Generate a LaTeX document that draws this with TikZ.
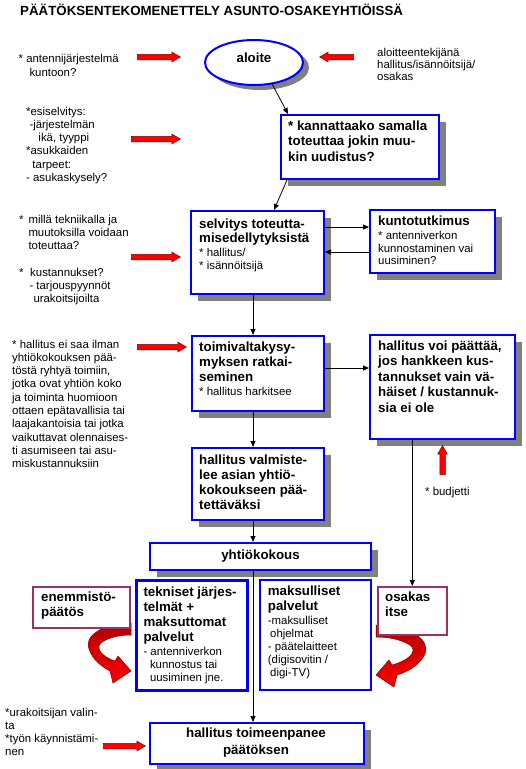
\documentclass[tikz,border=0pt]{standalone}
\usepackage{fontspec}
\setmainfont{Liberation Sans}
\usetikzlibrary{shapes.geometric,shapes.arrows,shadows,arrows.meta}
\definecolor{bblue}{HTML}{0000FF}
\definecolor{sgray}{HTML}{808080}
\definecolor{mroon}{HTML}{993366}
\definecolor{rred}{HTML}{FF0000}
\definecolor{dred}{HTML}{800000}
\tikzset{
 shd/.style={drop shadow={shadow xshift=7pt,shadow yshift=-7pt,fill=sgray,opacity=1}},
 bbox/.style={draw=bblue,line width=2pt,fill=white,rectangle,inner sep=0pt,anchor=north west},
 mbox/.style={draw=mroon,line width=1.6pt,fill=white,rectangle,inner sep=0pt,anchor=north west},
 nt/.style={inner sep=0pt,anchor=base west,align=left,font=\fontsize{11.4}{#1}\selectfont},
 nt/.default=13.3,
 bt/.style={inner sep=0pt,anchor=base west,align=left,font=\fontsize{13.3}{#1}\selectfont\bfseries},
 bt/.default=15.3,
 conn/.style={draw=black,line width=0.8pt,-{Triangle[length=6pt,width=5pt]}},
 rarrow/.style={single arrow,fill=rred,draw=dred,line width=0.5pt,inner sep=2.5pt,
   single arrow head extend=2.2pt,single arrow tip angle=60,minimum width=0pt},
 curvar/.style={top color=red!70!black,middle color=rred,bottom color=rred,draw=dred,line width=0.5pt},
}
\begin{document}
\begin{tikzpicture}[x=1pt,y=-1pt]
\useasboundingbox (0,0) rectangle (526,769);
\fill[white] (0,0) rectangle (526,769);
% title
\node[anchor=base west,inner sep=0pt,font=\fontsize{13.3}{15}\selectfont\bfseries] (title) at (20,15) {PÄÄTÖKSENTEKOMENETTELY ASUNTO-OSAKEYHTIÖISSÄ};
% ellipse
\node[ellipse,draw=bblue,line width=2pt,fill=white,inner sep=0pt,minimum width=98pt,minimum height=45pt,
  drop shadow={shadow xshift=6pt,shadow yshift=-5pt,fill=sgray,opacity=1}] (e1) at (254,62.5) {};
\node[bt,anchor=base] (e1t) at (254,62) {aloite};
% curved arrows (drawn below the maroon boxes)
\shade[curvar] (131,623) .. controls (100,624) and (84,637) .. (89,649) .. controls (93,661) and (103,667) .. (110,671)
  -- (113,683) -- (131,671) -- (118,656) -- (115,661)
  .. controls (100,656) and (95,647) .. (102,642) .. controls (110,637) and (120,635) .. (131,635) -- cycle;
\shade[curvar] (376,625) .. controls (414,626) and (430,641) .. (425,654) .. controls (420,665) and (407,672) .. (397,675)
  -- (394,687) -- (376,675) -- (389,660) -- (392,665)
  .. controls (410,660) and (418,651) .. (410,645) .. controls (400,639) and (388,637) .. (376,637) -- cycle;
% boxes
\node[bbox,shd,minimum width=158pt,minimum height=64pt] (b2) at (280,114) {};
\node[bbox,shd,minimum width=133pt,minimum height=83pt] (b3) at (190,210) {};
\node[bbox,shd,minimum width=125pt,minimum height=63pt] (b4) at (369,209) {};
\node[bbox,shd,minimum width=132pt,minimum height=75pt] (b5) at (191,335) {};
\node[bbox,shd,minimum width=145pt,minimum height=104pt] (b6) at (369,334) {};
\node[bbox,shd,minimum width=132pt,minimum height=72pt] (b7) at (191,447) {};
\node[bbox,shd,minimum width=221pt,minimum height=27pt] (b8) at (149,542) {};
\node[bbox,line width=2.8pt,minimum width=111pt,minimum height=110pt] (b9) at (135,579) {};
\node[bbox,minimum width=111pt,minimum height=110pt] (b10) at (259,579) {};
\node[mbox,minimum width=97pt,minimum height=41pt] (en) at (32,586) {};
\node[mbox,minimum width=69pt,minimum height=48pt] (os) at (377,586) {};
\node[bbox,shd,minimum width=214pt,minimum height=41pt] (b11) at (149,722) {};
% box texts (base = baseline of last line)
\node[bt=15.5] (t2) at (288,161.4) {* kannattaako samalla\\toteuttaa jokin muu-\\kin uudistus?};
\node[bt=14] (t3a) at (199,242.4) {selvitys toteutta-\\misedellytyksistä};
\node[nt] (t3b) at (199,269.5) {* hallitus/\\{}* isännöitsijä};
\node[bt] (t4a) at (378,225.4) {kuntotutkimus};
\node[nt=12.6] (t4b) at (378,264.9) {* antenniverkon\\kunnostaminen vai\\uusiminen?};
\node[bt=15] (t5a) at (199,381.7) {toimivaltakysy-\\myksen ratkai-\\seminen};
\node[nt] (t5b) at (199,395.7) {* hallitus harkitsee};
\node[bt=15.6] (t6) at (378,412.4) {hallitus voi päättää,\\jos hankkeen kus-\\tannukset vain vä-\\häiset / kustannuk-\\sia ei ole};
\node[bt=15.3] (t7) at (199,509.9) {hallitus valmiste-\\lee asian yhtiö-\\kokoukseen pää-\\tettäväksi};
\node[bt,anchor=center] (t8) at (b8.center) {yhtiökokous};
\node[bt=15] (t9a) at (143.3,641.7) {tekniset järjes-\\telmät +\\maksuttomat\\palvelut};
\node[nt] (t9b) at (143.3,681.6) {- antenniverkon\\\hspace*{6.5pt}kunnostus tai\\\hspace*{6.5pt}uusiminen jne.};
\node[bt=15.5] (t10a) at (267.7,610.5) {maksulliset\\palvelut};
\node[nt=12.9] (t10b) at (267.7,676.3) {-maksulliset\\\hspace*{2.3pt}ohjelmat\\- päätelaitteet\\(digisovitin /\\\hspace*{2.3pt}digi-TV)};
\node[bt=15] (ten) at (41,616.7) {enemmistö-\\päätös};
\node[bt=15] (tos) at (385,616.7) {osakas\\itse};
\node[bt=16.7,anchor=base,align=center] (t11) at (256,754.1) {hallitus toimeenpanee\\päätöksen};
% side texts
\node[nt=14] (l1) at (18.5,76.5) {* antennijärjestelmä\\\hspace*{10.8pt}kuntoon?};
\node[nt=12] (r1) at (377,80) {aloitteentekijänä\\hallitus/isännöitsijä/\\osakas};
\node[nt] (l2) at (26,181.5) {*esiselvitys:\\\hspace*{3.3pt}-järjestelmän\\\hspace*{12.3pt}ikä, tyyppi\\{}*asukkaiden\\\hspace*{6.3pt}tarpeet:\\- asukaskysely?};
\node[nt] (l3) at (19,302.8) {*\hspace{4.9pt}millä tekniikalla ja\\\hspace*{9.3pt}muutoksilla voidaan\\\hspace*{9.3pt}toteuttaa?\\[13.3pt]{}*\hspace{6.6pt}kustannukset?\\\hspace*{10.3pt}- tarjouspyynnöt\\\hspace*{14.3pt}urakoitsijoilta};
\node[nt] (l4) at (12,467.7) {* hallitus ei saa ilman\\yhtiökokouksen pää-\\töstä ryhtyä toimiin,\\jotka ovat yhtiön koko\\ja toiminta huomioon\\ottaen epätavallisia tai\\laajakantoisia tai jotka\\vaikuttavat olennaises-\\ti asumiseen tai asu-\\miskustannuksiin};
\node[nt] (l5) at (5,755.9) {*urakoitsijan valin-\\ta\\{}*työn käynnistämi-\\nen};
\node[nt] (bud) at (425,495) {* budjetti};
% red arrows
\node[rarrow,minimum height=43pt] (a1) at (156.5,57) {};
\node[rarrow,minimum height=49pt] (a2) at (153.5,139) {};
\node[rarrow,minimum height=49pt] (a3) at (153.5,257) {};
\node[rarrow,minimum height=49pt] (a4) at (159.5,347) {};
\node[rarrow,minimum height=42pt] (a5) at (122,746) {};
\node[rarrow,minimum height=34pt,shape border rotate=180] (a6) at (339,57) {};
\node[rarrow,minimum height=29pt,shape border rotate=90] (a7) at (442.5,462.5) {};
% connectors
\coordinate (colx) at (253,0);
\draw[conn] (e1.-50) -- ([xshift=8pt]b2.north west);
\draw[conn] ([xshift=7pt]b2.south west) -- ([xshift=84pt]b3.north west);
\draw[conn] (b3.south -| colx) -- (b5.north -| colx);
\coordinate (c34) at ([yshift=-17pt]b3.north east);
\draw[conn] (c34) -- (c34 -| b4.west);
\coordinate (c43) at ([yshift=-43pt]b4.north west);
\draw[conn] (c43) -- (c43 -| b3.east);
\coordinate (c56) at ([yshift=-33pt]b5.north east);
\draw[conn] (c56) -- (c56 -| b6.west);
\draw[conn] (b5.south -| colx) -- (b7.north -| colx);
\draw[conn] (b7.south -| colx) -- (b8.north -| colx);
\draw[conn] (b8.south -| colx) -- (b11.north -| colx);
\draw[conn] (b6.south -| os.north) -- (os.north);
\end{tikzpicture}
\end{document}
